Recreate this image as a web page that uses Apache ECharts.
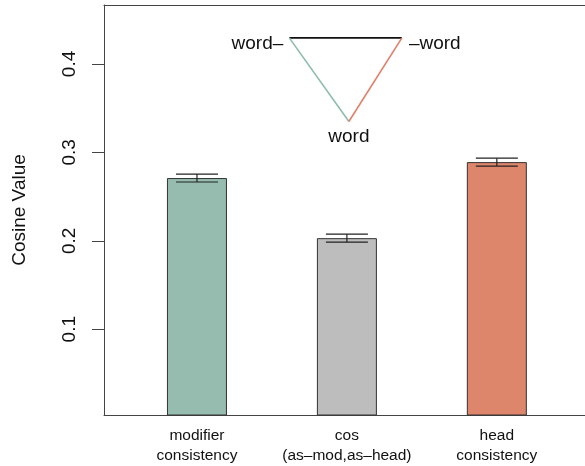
<!DOCTYPE html>
<html>
<head>
<meta charset="utf-8">
<script src="https://cdn.jsdelivr.net/npm/echarts@6/dist/echarts.min.js"></script>
<style>
  html, body { margin: 0; padding: 0; background: #fff; }
  #chart { width: 585px; height: 466px; }
</style>
</head>
<body>
<div id="chart"></div>
<script>
// Bar categories (two-line labels) and their mean cosine values with error margins
const categories = ['modifier\nconsistency', 'cos\n(as–mod,as–head)', 'head\nconsistency'];
const values = [0.271, 0.203, 0.289];
const errors = [0.0045, 0.0045, 0.0045];
const barColors = ['#95BCAE', '#BDBDBD', '#DE866B'];
const yTicks = [0.1, 0.2, 0.3, 0.4];

// Inset diagram: triangle vertices in axis units, edges and vertex labels
const diagramVertices = [[3.54, 0.4295], [5.417, 0.4295], [4.533, 0.335]];
const diagramEdges = [[0, 1, '#111111'], [0, 2, '#8DBDAE'], [1, 2, '#E0806A']];
const diagramLabels = ['word–', '–word', 'word'];

// barplot layout: unit bar width, spacing 1.5 → centres at 2, 4.5, 7
const barCenters = categories.map((_, i) => 2 + 2.5 * i);
const X_MIN = 0.45, X_MAX = 8.47;
const Y_MIN = 0.003, Y_MAX = 0.4667;

const FONT = '"Liberation Sans", Arial, Helvetica, sans-serif';
const AXIS_COLOR = '#444';

const chart = echarts.init(document.getElementById('chart'), null, { renderer: 'canvas' });

chart.setOption({
  animation: false,
  backgroundColor: '#fff',
  textStyle: { fontFamily: FONT },
  grid: { left: 104, right: 0, top: 5, bottom: 50, containLabel: false },
  xAxis: [
    {
      type: 'value', min: X_MIN, max: X_MAX, position: 'bottom',
      axisLine: { show: true, onZero: false, lineStyle: { color: AXIS_COLOR, width: 1 } },
      axisTick: { show: false },
      splitLine: { show: false },
      axisLabel: {
        customValues: barCenters,
        formatter: (v) => {
          const i = barCenters.findIndex(c => Math.abs(c - v) < 1e-6);
          return i >= 0 ? categories[i] : '';
        },
        fontFamily: FONT, fontSize: 15.5, lineHeight: 20, color: '#111', margin: 11
      }
    },
    {
      type: 'value', min: X_MIN, max: X_MAX, position: 'top',
      axisLine: { show: true, onZero: false, lineStyle: { color: AXIS_COLOR, width: 1 } },
      axisTick: { show: false }, axisLabel: { show: false }, splitLine: { show: false }
    }
  ],
  yAxis: {
    type: 'value', min: Y_MIN, max: Y_MAX,
    name: 'Cosine Value', nameLocation: 'middle', nameRotate: 90, nameGap: 75,
    nameTextStyle: { fontFamily: FONT, fontSize: 19, color: '#111' },
    axisLine: { show: true, onZero: false, lineStyle: { color: AXIS_COLOR, width: 1 } },
    axisTick: { show: true, length: 12, customValues: yTicks, lineStyle: { color: AXIS_COLOR, width: 1 } },
    axisLabel: {
      customValues: yTicks, rotate: 90, margin: 25,
      formatter: (v) => v.toFixed(1),
      fontFamily: FONT, fontSize: 19, color: '#111'
    },
    splitLine: { show: false }
  },
  series: [
    {
      type: 'bar',
      barWidth: 60,
      data: values.map((v, i) => ({
        value: [barCenters[i], v],
        itemStyle: { color: barColors[i] }
      })),
      itemStyle: { borderColor: '#333', borderWidth: 1 },
      z: 2
    },
    {
      // error bars with horizontal caps
      type: 'custom',
      data: values.map((v, i) => [barCenters[i], v - errors[i], v + errors[i]]),
      renderItem: (params, api) => {
        const lo = api.coord([api.value(0), api.value(1)]);
        const hi = api.coord([api.value(0), api.value(2)]);
        const half = 21;
        const style = { stroke: '#222', lineWidth: 1.2 };
        return {
          type: 'group',
          children: [
            { type: 'line', shape: { x1: lo[0], y1: lo[1], x2: hi[0], y2: hi[1] }, style },
            { type: 'line', shape: { x1: lo[0] - half, y1: lo[1], x2: lo[0] + half, y2: lo[1] }, style },
            { type: 'line', shape: { x1: hi[0] - half, y1: hi[1], x2: hi[0] + half, y2: hi[1] }, style }
          ]
        };
      },
      z: 3
    },
    {
      // triangle diagram edges
      type: 'custom',
      data: diagramEdges.map(e => [...diagramVertices[e[0]], ...diagramVertices[e[1]]]),
      renderItem: (params, api) => {
        const a = api.coord([api.value(0), api.value(1)]);
        const b = api.coord([api.value(2), api.value(3)]);
        return {
          type: 'line',
          shape: { x1: a[0], y1: a[1], x2: b[0], y2: b[1] },
          style: { stroke: diagramEdges[params.dataIndex][2], lineWidth: 1.6 }
        };
      },
      z: 4
    },
    {
      // triangle vertex labels
      type: 'custom',
      data: diagramVertices,
      renderItem: (params, api) => {
        const p = api.coord([api.value(0), api.value(1)]);
        const i = params.dataIndex;
        const place = [
          { x: p[0] - 6, y: p[1] + 6, align: 'right' },
          { x: p[0] + 7, y: p[1] + 6, align: 'left' },
          { x: p[0], y: p[1] + 15, align: 'center' }
        ][i];
        return {
          type: 'text',
          x: place.x, y: place.y,
          style: {
            text: diagramLabels[i], fill: '#111',
            font: '19px ' + FONT,
            align: place.align, verticalAlign: 'middle'
          }
        };
      },
      z: 5
    }
  ]
});
</script>
</body>
</html>
